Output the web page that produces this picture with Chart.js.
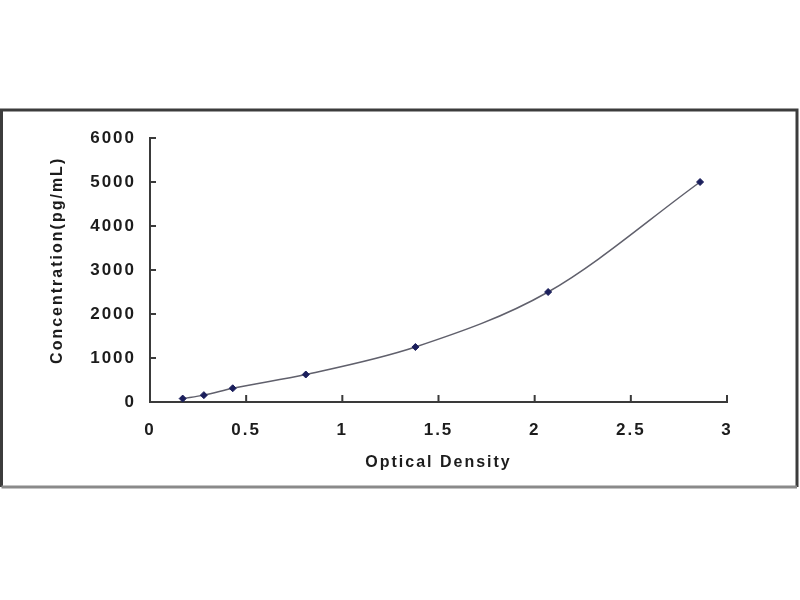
<!DOCTYPE html>
<html>
<head>
<meta charset="utf-8">
<title>Standard Curve</title>
<script src="https://cdn.jsdelivr.net/npm/chart.js@4.4.1/dist/chart.umd.min.js"></script>
<style>
  html, body { margin: 0; padding: 0; background: #fff; }
  #wrap { width: 800px; height: 600px; }
</style>
</head>
<body>
<div id="wrap"><canvas id="curve"></canvas></div>
<script>
// standard curve values
const opticalDensity = [0.17, 0.28, 0.43, 0.81, 1.38, 2.07, 2.86];
const concentration = [78, 156, 312, 625, 1250, 2500, 5000];
const xTicks = [0, 0.5, 1, 1.5, 2, 2.5, 3];
const yTicks = [0, 1000, 2000, 3000, 4000, 5000, 6000];

const textColor = '#1c1c1c';
const axisColor = '#3a3a3a';

// frame round the whole figure, plus letter spacing for the bold text
const framePlugin = {
    id: 'frame',
    beforeDraw(chart) {
        const ctx = chart.ctx;
        ctx.save();
        ctx.fillStyle = '#fff';
        ctx.fillRect(0, 0, chart.width, chart.height);
        ctx.lineWidth = 3;
        ctx.strokeStyle = '#3c3c3c';
        ctx.beginPath();
        ctx.moveTo(1.5, 487);
        ctx.lineTo(1.5, 110);
        ctx.lineTo(797, 110);
        ctx.lineTo(797, 487);
        ctx.stroke();
        ctx.strokeStyle = '#8a8a8a';
        ctx.beginPath();
        ctx.moveTo(1.5, 487);
        ctx.lineTo(797, 487);
        ctx.stroke();
        ctx.restore();
        ctx.letterSpacing = '2px';
    },
    afterDraw(chart) {
        chart.ctx.letterSpacing = '0px';
    }
};

// short tick marks pointing into the plot
const innerTicks = {
    id: 'innerTicks',
    afterDatasetsDraw(chart) {
        const ctx = chart.ctx;
        const x = chart.scales.x;
        const y = chart.scales.y;
        ctx.save();
        ctx.strokeStyle = axisColor;
        ctx.lineWidth = 2;
        ctx.beginPath();
        xTicks.forEach(v => {
            const px = x.getPixelForValue(v);
            ctx.moveTo(px, y.bottom);
            ctx.lineTo(px, y.bottom - 7);
        });
        yTicks.forEach(v => {
            const py = y.getPixelForValue(v);
            ctx.moveTo(x.left, py);
            ctx.lineTo(x.left + 6, py);
        });
        ctx.stroke();
        ctx.restore();
    }
};

const tickFont = { family: 'Liberation Sans, Arial, sans-serif', size: 17, weight: 'bold' };
const titleFont = { family: 'Liberation Sans, Arial, sans-serif', size: 16, weight: 'bold' };

const ctx = document.getElementById('curve').getContext('2d');
const curveChart = new Chart(ctx, {
    type: 'scatter',
    data: {
        datasets: [{
            label: 'Standard',
            data: opticalDensity.map((od, i) => ({ x: od, y: concentration[i] })),
            showLine: true,
            cubicInterpolationMode: 'monotone',
            borderColor: '#60606c',
            borderWidth: 1.5,
            pointStyle: 'rectRot',
            pointRadius: 3.5,
            pointBackgroundColor: '#1b1f5c',
            pointBorderColor: '#1b1f5c',
            pointBorderWidth: 1
        }]
    },
    options: {
        responsive: true,
        maintainAspectRatio: false,
        animation: false,
        layout: {
            padding: { left: 40, top: 138, right: 73, bottom: 118 }
        },
        plugins: {
            legend: { display: false },
            tooltip: { enabled: false }
        },
        scales: {
            x: {
                type: 'linear',
                min: 0,
                max: 3,
                afterFit(scale) { scale.height = 80; },
                afterBuildTicks(scale) { scale.ticks = xTicks.map(v => ({ value: v })); },
                grid: { display: false },
                border: { display: true, color: axisColor, width: 2 },
                ticks: {
                    padding: 10,
                    color: textColor,
                    font: tickFont,
                    callback: v => String(v)
                },
                title: {
                    display: true,
                    text: 'Optical Density',
                    color: textColor,
                    padding: { top: 0, bottom: 10 },
                    font: titleFont
                }
            },
            y: {
                type: 'linear',
                min: 0,
                max: 6000,
                afterFit(scale) { scale.width = 110; },
                afterBuildTicks(scale) { scale.ticks = yTicks.map(v => ({ value: v })); },
                grid: { display: false },
                border: { display: true, color: axisColor, width: 2 },
                ticks: {
                    padding: 6,
                    color: textColor,
                    font: tickFont,
                    callback: v => String(v)
                },
                title: {
                    display: true,
                    text: '   Concentration(pg/mL)',
                    color: textColor,
                    padding: { top: 8, bottom: 0 },
                    font: titleFont
                }
            }
        }
    },
    plugins: [framePlugin, innerTicks]
});
</script>
</body>
</html>
